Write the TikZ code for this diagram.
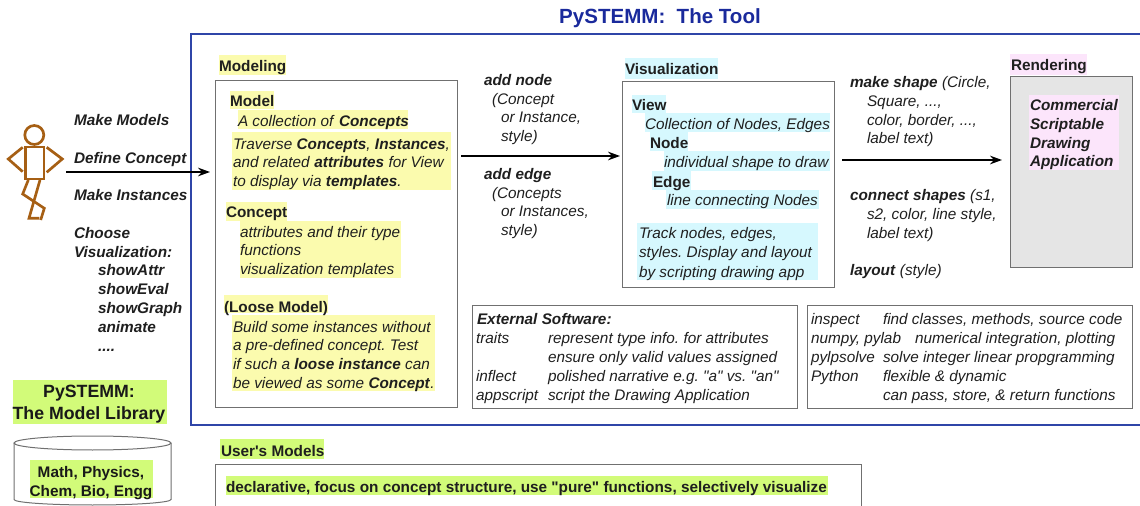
\documentclass[tikz,border=0pt]{standalone}
\usepackage{fontspec}
\newfontfamily\lib{Liberation Sans}
\definecolor{hy}{HTML}{FBFBAE}
\definecolor{hg}{HTML}{D2FB79}
\definecolor{hc}{HTML}{D6F8FE}
\definecolor{hp}{HTML}{FCE5FB}
\definecolor{blueb}{HTML}{2F45A8}
\definecolor{tool}{HTML}{1A2A9C}
\definecolor{brownf}{HTML}{A65F14}
\definecolor{boxl}{HTML}{707070}
\usetikzlibrary{arrows.meta}
\tikzset{
  tx/.style={anchor=base west,inner sep=0pt,outer sep=0pt,yshift=-0.75pt,font=\lib\frenchspacing\fontsize{11.5}{13}\selectfont,text=black!88},
  ctr/.style={anchor=base,inner sep=0pt,outer sep=0pt,font=\lib\bfseries\fontsize{#1}{14}\selectfont,text=black!90},
  hl/.style={fill=#1,draw=none},
  bx/.style={draw=boxl,line width=0.75pt},
  flow/.style={draw=black,line width=0.9pt,-{Stealth[length=9pt,width=6.5pt]}},
  fig/.style={draw=brownf,line width=2pt,line join=miter}
}
\newcommand{\bi}[1]{\textbf{\textit{#1}}}
\newcommand{\itt}[1]{\textit{#1}}
\newcommand{\hb}[5]{\fill[hl=#1] (#2,#3) rectangle (#4,#5);}
\begin{document}
\begin{tikzpicture}[x=0.75pt,y=-0.75pt]
\useasboundingbox (0,0) rectangle (1140,506);
\begin{scope}
\clip (0,0) rectangle (1140,506);
% highlights
\hb{hy}{218.5}{55}{286}{75}
\hb{hy}{230}{91}{274}{109}
\hb{hy}{238}{110}{408}{129}
\hb{hy}{232}{132}{451}{190}
\hb{hy}{226}{202}{287}{221}
\hb{hy}{240}{221}{401}{278}
\hb{hy}{224}{295}{328}{313}
\hb{hy}{232}{315}{435}{391}
\hb{hg}{12.5}{380}{167}{424}
\hb{hg}{220}{439}{324}{459}
\hb{hg}{226}{476}{828}{495}
\hb{hc}{625}{58}{718}{79}
\hb{hc}{632}{95}{666}{113}
\hb{hc}{645}{113}{830}{132}
\hb{hc}{650}{132}{688}{151}
\hb{hc}{664}{151}{830}{171}
\hb{hc}{652}{171}{691}{190}
\hb{hc}{666}{190}{819}{209}
\hb{hc}{637}{223}{818}{280}
\hb{hp}{1010}{54}{1087}{75}
% boxes
\draw[draw=blueb,line width=1.3pt] (1142,34) -- (191,34) -- (191,425) -- (1142,425);
\draw[bx] (215,81) rectangle (457,407);
\draw[bx] (622.7,82) rectangle (834,288);
\draw[bx,fill=black!10] (1010,77) rectangle (1132,268);
\hb{hp}{1029}{95}{1118.5}{170}
\draw[bx] (472,306) rectangle (797,408);
\draw[bx] (807,306) rectangle (1132,408);
\draw[bx] (215,464) rectangle (861,520);
% cylinder
\draw[bx,fill=white] (14,443) -- (14,499.5) arc[start angle=180,end angle=0,x radius=78.5,y radius=5.5] -- (171,443);
\draw[bx] (92.5,443) ellipse[x radius=78.5,y radius=7];
\hb{hg}{30}{460}{153}{498}
% figure
\draw[fig] (34.3,135) circle[radius=9.5];
\draw[fig] (25.5,147) rectangle (44,179);
\draw[fig] (22.7,147.3) -- (8.3,159) -- (22.7,171.7);
\draw[fig] (46.7,147.3) -- (62.3,159) -- (46.7,172.3);
\draw[fig] (28.3,180) -- (22.7,194) -- (44.3,208.3) -- (40.7,220);
\draw[fig] (40,180) -- (29,218.3) -- (39.3,218.3);
\end{scope}
% text
\node[ctr=15.4,text=tool] (title) at (660,23.5) {PySTEMM:\ \ The Tool};
\node[tx] (t1) at (74,125) {\bi{Make Models}};
\node[tx] (t2) at (74,163) {\bi{Define Concept}};
\node[tx] (t3) at (74,200) {\bi{Make Instances}};
\node[tx] (t4) at (74,238) {\bi{Choose}};
\node[tx] (t5) at (74,257) {\bi{Visualization:}};
\node[tx] (t6) at (98,275) {\bi{showAttr}};
\node[tx] (t7) at (98,294) {\bi{showEval}};
\node[tx] (t8) at (98,313) {\bi{showGraph}};
\node[tx] (t9) at (98,332) {\bi{animate}};
\node[tx] (t10) at (98,351) {\bi{....}};
\node[tx] (m0) at (219,71) {\textbf{Modeling}};
\node[tx] (m1) at (230,106) {\textbf{Model}};
\node[tx] (m2) at (238,126) {\itt{A collection of} \bi{Concepts}};
\node[tx] (m3) at (233,149) {\itt{Traverse} \bi{Concepts}\itt{,} \bi{Instances}\itt{,}};
\node[tx] (m4) at (233,167) {\itt{and related} \bi{attributes} \itt{for View}};
\node[tx] (m5) at (233,186) {\itt{to display via} \bi{templates}\itt{.}};
\node[tx] (m6) at (226,217) {\textbf{Concept}};
\node[tx] (m7) at (240,237) {\itt{attributes and their type}};
\node[tx] (m8) at (240,255) {\itt{functions}};
\node[tx] (m9) at (240,274) {\itt{visualization templates}};
\node[tx] (m10) at (224,311) {\textbf{(Loose Model)}};
\node[tx] (m11) at (233,331) {\itt{Build some instances without}};
\node[tx] (m12) at (233,349) {\itt{a pre-defined concept. Test}};
\node[tx] (m13) at (233,368) {\itt{if such a} \bi{loose instance} \itt{can}};
\node[tx] (m14) at (233,387) {\itt{be viewed as some} \bi{Concept}\itt{.}};
\node[tx] (a1) at (484,85) {\bi{add node}};
\node[tx] (a2) at (492,104) {\itt{(Concept}};
\node[tx] (a3) at (501,122) {\itt{or Instance,}};
\node[tx] (a4) at (501,141) {\itt{style)}};
\node[tx] (a5) at (484,179) {\bi{add edge}};
\node[tx] (a6) at (492,198) {\itt{(Concepts}};
\node[tx] (a7) at (501,216) {\itt{or Instances,}};
\node[tx] (a8) at (501,235) {\itt{style)}};
\node[tx] (v0) at (625,74) {\textbf{Visualization}};
\node[tx] (v1) at (632,110) {\textbf{View}};
\node[tx] (v2) at (645,129) {\itt{Collection of Nodes, Edges}};
\node[tx] (v3) at (650,148) {\textbf{Node}};
\node[tx] (v4) at (664,167) {\itt{individual shape to draw}};
\node[tx] (v5) at (653,187) {\textbf{Edge}};
\node[tx] (v6) at (667,205) {\itt{line connecting Nodes}};
\node[tx] (v7) at (639,238) {\itt{Track nodes, edges,}};
\node[tx] (v8) at (639,257) {\itt{styles. Display and layout}};
\node[tx] (v9) at (639,276) {\itt{by scripting drawing app}};
\node[tx] (s1) at (850,87) {\bi{make shape} \itt{(Circle,}};
\node[tx] (s2) at (867,106) {\itt{Square, ...,}};
\node[tx] (s3) at (867,125) {\itt{color, border, ...,}};
\node[tx] (s4) at (867,143) {\itt{label text)}};
\node[tx] (s5) at (850,200) {\bi{connect shapes} \itt{(s1,}};
\node[tx] (s6) at (867,219) {\itt{s2, color, line style,}};
\node[tx] (s7) at (867,238) {\itt{label text)}};
\node[tx] (s8) at (850,275) {\bi{layout} \itt{(style)}};
\node[tx] (r0) at (1011,70) {\textbf{Rendering}};
\node[tx] (r1) at (1030,110) {\bi{Commercial}};
\node[tx] (r2) at (1030,129) {\bi{Scriptable}};
\node[tx] (r3) at (1030,148) {\bi{Drawing}};
\node[tx] (r4) at (1030,166) {\bi{Application}};
\node[tx] (e0) at (477,324) {\bi{External Software:}};
\node[tx] (e1) at (476,343) {\itt{traits}};
\node[tx] (e1b) at (548,343) {\itt{represent type info. for attributes}};
\node[tx] (e2) at (548,362) {\itt{ensure only valid values assigned}};
\node[tx] (e3) at (476,380) {\itt{inflect}};
\node[tx] (e3b) at (548,380) {\itt{polished narrative e.g. "a" vs. "an"}};
\node[tx] (e4) at (476,399) {\itt{appscript}};
\node[tx] (e4b) at (548,399) {\itt{script the Drawing Application}};
\node[tx] (x1) at (811,324) {\itt{inspect}};
\node[tx] (x1b) at (883,324) {\itt{find classes, methods, source code}};
\node[tx] (x2) at (811,343) {\itt{numpy, pylab}};
\node[tx] (x2b) at (915,343) {\itt{numerical integration, plotting}};
\node[tx] (x3) at (811,362) {\itt{pylpsolve}};
\node[tx] (x3b) at (883,362) {\itt{solve integer linear propgramming}};
\node[tx] (x4) at (811,380) {\itt{Python}};
\node[tx] (x4b) at (883,380) {\itt{flexible \& dynamic}};
\node[tx] (x5) at (883,399) {\itt{can pass, store, \& return functions}};
\node[ctr=13.3] (l1) at (89,397.5) {PySTEMM:};
\node[ctr=13.3] (l2) at (89,419.5) {The Model Library};
\node[ctr=11.5] (c1) at (91,477.5) {Math, Physics,};
\node[ctr=11.5] (c2) at (91,496.5) {Chem, Bio, Engg};
\node[tx] (u0) at (221,455) {\textbf{User's Models}};
\node[tx] (u1) at (226,491) {\textbf{declarative, focus on concept structure, use "pure" functions, selectively visualize}};
% connectors
\coordinate (af) at (66,172);
\coordinate (at) at (210,172);
\coordinate (bf) at (461,156);
\coordinate (bt) at (620,156);
\coordinate (cf) at (842,160);
\coordinate (ct) at (1002,160);
\draw[flow] (af) -- (at);
\draw[flow] (bf) -- (bt);
\draw[flow] (cf) -- (ct);
\end{tikzpicture}
\end{document}
